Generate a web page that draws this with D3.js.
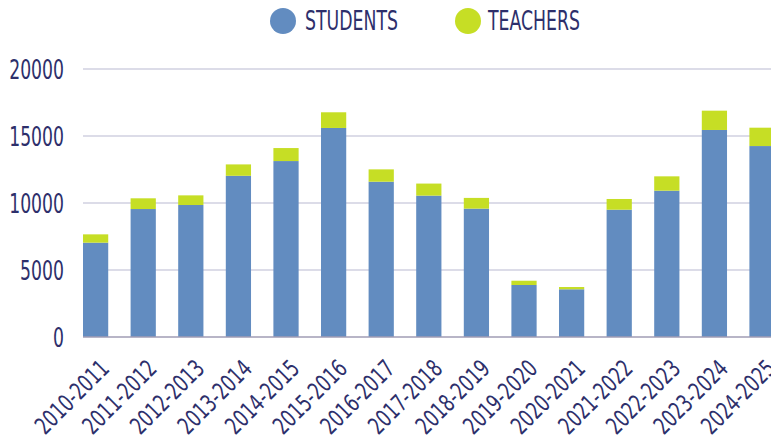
<!DOCTYPE html>
<html>
<head>
<meta charset="utf-8">
<script src="https://cdn.jsdelivr.net/npm/d3@7"></script>
<style>
  body { margin: 0; background: #fff; }
  svg { display: block; }
  text { font-family: "DejaVu Sans Condensed", "DejaVu Sans", sans-serif; fill: #2d2f6b; }
</style>
</head>
<body>
<svg id="chart" width="771" height="441"></svg>
<script>
const years = ['2010-2011', '2011-2012', '2012-2013', '2013-2014', '2014-2015', '2015-2016', '2016-2017',
    '2017-2018', '2018-2019', '2019-2020', '2020-2021', '2021-2022', '2022-2023', '2023-2024', '2024-2025'];
const students = [7040, 9550, 9850, 12030, 13130, 15600, 11590, 10550, 9580, 3880, 3560, 9500, 10920, 15450, 14250];
const teachers = [620, 800, 720, 850, 970, 1170, 920, 900, 800, 320, 170, 800, 1070, 1440, 1370];
const yTicks = [0, 5000, 10000, 15000, 20000];
const seriesNames = ['STUDENTS', 'TEACHERS'];
const colors = ['#628cc0', '#c6de25'];

const W = 771;
const plotLeft = 83, plotTop = 69, plotBottom = 337;
// the source font is very narrow, squeeze the condensed one horizontally
const squeeze = 0.74;

const svg = d3.select('#chart');

const rows = years.map((y, i) => ({ year: y, STUDENTS: students[i], TEACHERS: teachers[i] }));
const stacked = d3.stack().keys(seriesNames)(rows);

const x = d3.scaleBand()
    .domain(years)
    .range([plotLeft, plotLeft + 47.6 * (years.length - 0.47)])
    .paddingInner(0.47)
    .paddingOuter(0);

const y = d3.scaleLinear().domain([0, 20000]).range([plotBottom, plotTop]);

// gridlines
svg.append('g')
    .selectAll('line')
    .data(yTicks.filter(t => t > 0))
    .join('line')
    .attr('x1', plotLeft)
    .attr('x2', W)
    .attr('y1', d => y(d))
    .attr('y2', d => y(d))
    .attr('stroke', '#d0d0e0')
    .attr('stroke-width', 1.3);

// y labels
svg.append('g')
    .selectAll('text')
    .data(yTicks)
    .join('text')
    .attr('transform', d => `translate(64,${y(d)}) scale(0.71,1)`)
    .attr('dy', '0.36em')
    .attr('text-anchor', 'end')
    .attr('font-size', 27)
    .text(d => d);

// bars
svg.append('g')
    .selectAll('g')
    .data(stacked)
    .join('g')
    .attr('fill', (d, i) => colors[i])
    .selectAll('rect')
    .data(d => d)
    .join('rect')
    .attr('x', d => x(d.data.year))
    .attr('width', x.bandwidth())
    .attr('y', d => y(d[1]))
    .attr('height', d => y(d[0]) - y(d[1]));

// baseline
svg.append('line')
    .attr('x1', plotLeft)
    .attr('x2', W)
    .attr('y1', plotBottom)
    .attr('y2', plotBottom)
    .attr('stroke', '#a09cb4')
    .attr('stroke-width', 1.5);

// x labels
svg.append('g')
    .selectAll('text')
    .data(years)
    .join('text')
    .attr('text-anchor', 'end')
    .attr('font-size', 24)
    .attr('transform', d => `translate(${x(d) + x.bandwidth() / 2 + 15},${plotBottom + 33}) rotate(-45) scale(0.79,1)`)
    .text(d => d);

// legend
const legend = svg.append('g')
    .selectAll('g')
    .data(seriesNames)
    .join('g')
    .attr('transform', (d, i) => `translate(${283 + i * 185},21)`);

legend.append('circle')
    .attr('r', 13)
    .attr('fill', (d, i) => colors[i]);

legend.append('text')
    .attr('transform', (d, i) => `translate(${22 - i * 2},0) scale(${squeeze},1)`)
    .attr('dy', '0.36em')
    .attr('font-size', 26)
    .text(d => d);
</script>
</body>
</html>
